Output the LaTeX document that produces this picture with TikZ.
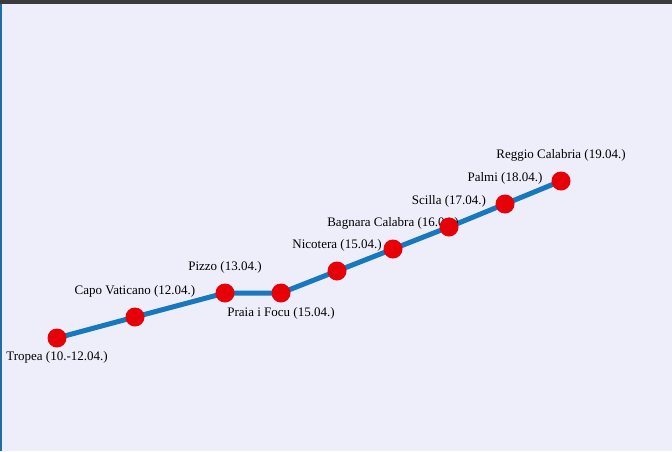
\documentclass[tikz,border=0pt]{standalone}
\usepackage{fontspec}
\setmainfont{Liberation Serif}
\usepackage{xcolor}
\usetikzlibrary{positioning,backgrounds}

\definecolor{pagebg}{HTML}{EEEEFA}
\definecolor{topbar}{HTML}{3B3B3B}
\definecolor{edgeblue}{HTML}{1E6EA8}
\definecolor{routeblue}{HTML}{1878BE}
\definecolor{haltred}{HTML}{E60008}

\begin{document}
\begin{tikzpicture}[x=1pt, y=-1pt, font=\fontsize{13}{15}\selectfont,
    halt/.style={circle, fill=haltred, minimum size=19pt, inner sep=0pt},
    place/.style={inner sep=0pt},
    route/.style={routeblue, line width=5pt}]
  \useasboundingbox (0,0) rectangle (672,451);
  % stops
  \node[halt] (tropea) at (57,338) {};
  \node[halt] (capo) at (135,317) {};
  \node[halt] (pizzo) at (225,293) {};
  \node[halt] (praia) at (281,293) {};
  \node[halt] (nicotera) at (337,271) {};
  \node[halt] (bagnara) at (393,249) {};
  \node[halt] (scilla) at (449,227) {};
  \node[halt] (palmi) at (505,204) {};
  \node[halt] (reggio) at (561,181) {};
  \begin{scope}[on background layer]
    \fill[pagebg] (0,0) rectangle (672,451);
    \fill[topbar] (0,0) rectangle (672,4);
    \fill[edgeblue] (0,4) rectangle (1.5,451);
    \draw[route] (tropea.center) -- (capo.center) -- (pizzo.center)
      -- (praia.center) -- (nicotera.center) -- (bagnara.center)
      -- (scilla.center) -- (palmi.center) -- (reggio.center);
    % labels
    \node[place, below=4pt of tropea] (ltropea) {Tropea (10.-12.04.)};
    \node[place, above=9.5pt of capo] (lcapo) {Capo Vaticano (12.04.)};
    \node[place, above=9.5pt of pizzo] (lpizzo) {Pizzo (13.04.)};
    \node[place, below=4.5pt of praia] (lpraia) {Praia i Focu (15.04.)};
    \node[place, above=9.5pt of nicotera] (lnicotera) {Nicotera (15.04.)};
    \node[place, above=9.5pt of bagnara] (lbagnara) {Bagnara Calabra (16.04.)};
    \node[place, above=9.5pt of scilla] (lscilla) {Scilla (17.04.)};
    \node[place, above=9.5pt of palmi] (lpalmi) {Palmi (18.04.)};
    \node[place, above=9.5pt of reggio] (lreggio) {Reggio Calabria (19.04.)};
  \end{scope}
\end{tikzpicture}
\end{document}
